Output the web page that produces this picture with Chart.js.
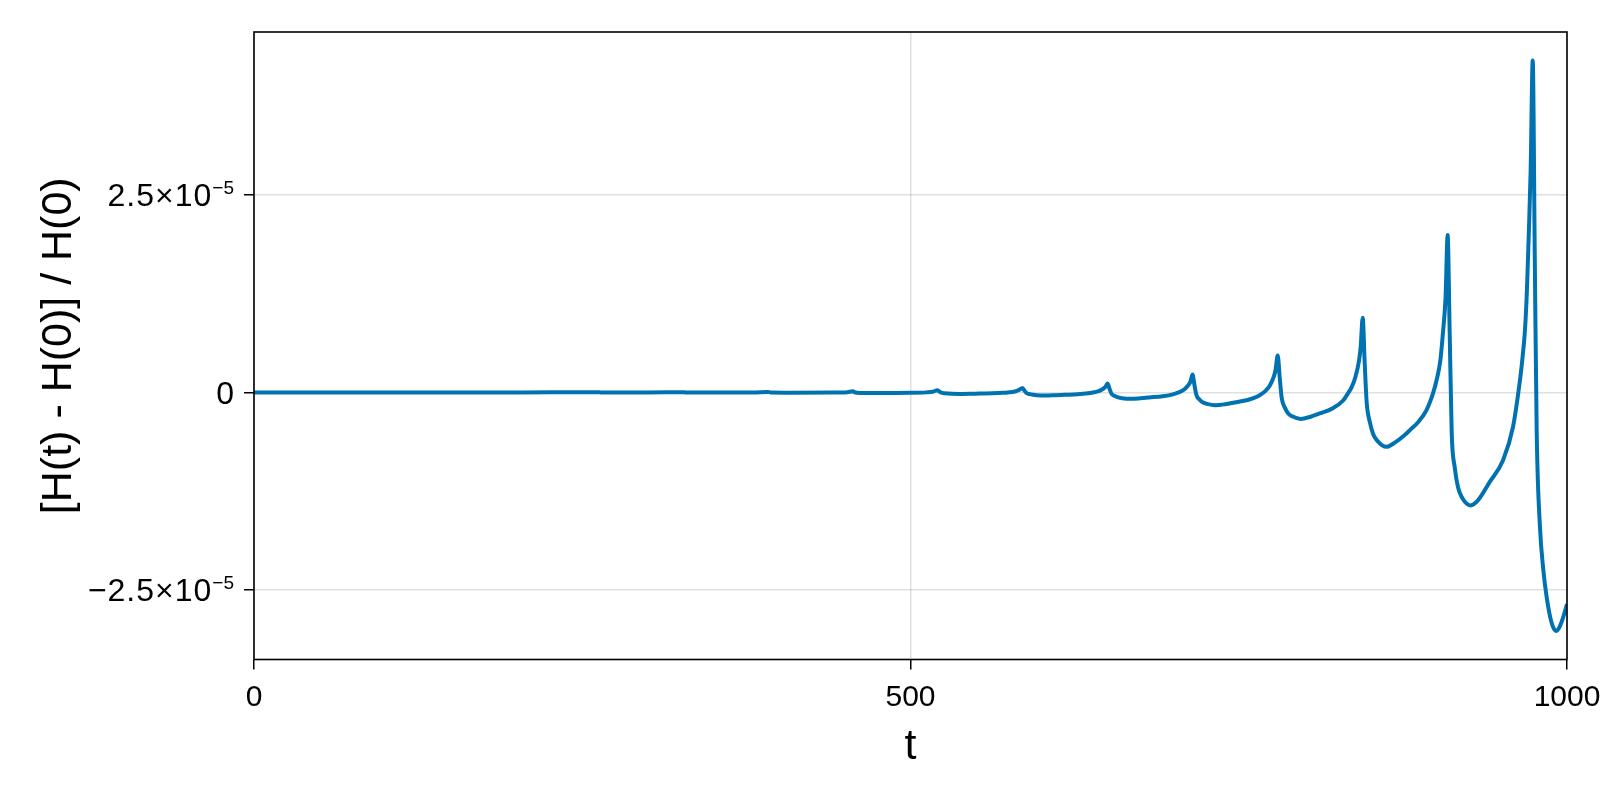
<!DOCTYPE html>
<html>
<head>
<meta charset="utf-8">
<script src="https://cdn.jsdelivr.net/npm/chart.js@4"></script>
<style>
  html, body { margin: 0; padding: 0; background: #fff; }
  #wrap { width: 1600px; height: 800px; }
</style>
</head>
<body>
<div id="wrap"><canvas id="energyChart" width="1600" height="800"></canvas></div>
<script>
// t values
const tValues = [
  0, 100, 200, 261.8, 264, 300, 326.5, 329, 344, 380, 391.3, 393.5, 409, 440, 452, 456, 458, 462, 474, 500, 512, 517, 520.5,
  522, 523.5, 526, 531.5, 538, 545.5, 552.5, 562.5, 570.3, 574.1, 579.5, 582.4, 585.3,
  586.8, 588.3, 590.8, 593.3, 596.3, 602.8, 610.3, 617.3, 627.3, 635.1, 638.9, 641.3, 644.3, 647.2, 648.5, 650.1,
  651.6, 653.1, 655.6, 658.1, 661.1, 667.6, 675.1, 682.1, 692.1, 699.9, 703.7, 706.1, 709.1, 712, 713.3, 714.8,
  716.3, 717.8, 720.3, 722.8, 725.8, 732.3, 739.8, 746.8, 756.8, 764.6, 768.4, 770.8, 773.8, 776.7, 778, 779.7,
  781.2, 782.7, 785.2, 787.7, 790.7, 797.2, 804.7, 811.7, 821.7, 829.5, 833.3, 835.7, 838.7, 841.6, 842.9, 844.4,
  845.9, 847.4, 849.9, 852.4, 855.4, 862.4, 869.4, 876.4, 880.4, 886.4, 893, 898, 900.7, 903.5, 905.5, 907.5, 909.1,
  910.6, 912.2, 914.5, 917, 920, 926.6, 932, 941.3, 951.3, 958.9, 964.2, 966, 968, 969.5, 971, 972.3, 973.9,
  975.5, 976.9, 979.4, 982, 984.5, 988, 991.6, 994, 997, 1000
];

// [H(t) - H(0)] / H(0)
const relError = [
  0, 0, 0, 0.0015e-5, -0.0005e-5, -0.0008e-5, 0.003e-5, -0.001e-5, -0.002e-5, -0.001e-5, 0.006e-5, -0.002e-5, -0.004e-5, -0.003e-5, 0.002e-5, 0.013e-5, -0.002e-5, -0.007e-5, -0.009e-5, -0.006e-5, 0, 0.008e-5, 0.027e-5,
  0.011e-5, -0.004e-5, -0.011e-5, -0.0175e-5, -0.019e-5, -0.018e-5, -0.015e-5, -0.012e-5, -0.006e-5, -0.001e-5, 0.011e-5, 0.028e-5, 0.055e-5,
  0.022e-5, -0.008e-5, -0.023e-5, -0.031e-5, -0.036e-5, -0.04e-5, -0.036e-5, -0.031e-5, -0.024e-5, -0.012e-5, -0.002e-5, 0.007e-5, 0.022e-5, 0.05e-5, 0.07e-5, 0.112e-5,
  0.045e-5, -0.017e-5, -0.047e-5, -0.064e-5, -0.073e-5, -0.081e-5, -0.074e-5, -0.064e-5, -0.048e-5, -0.025e-5, -0.004e-5, 0.013e-5, 0.045e-5, 0.1e-5, 0.14e-5, 0.225e-5,
  0.09e-5, -0.034e-5, -0.095e-5, -0.128e-5, -0.146e-5, -0.162e-5, -0.149e-5, -0.128e-5, -0.097e-5, -0.05e-5, -0.008e-5, 0.027e-5, 0.09e-5, 0.2e-5, 0.28e-5, 0.466e-5,
  0.186e-5, -0.07e-5, -0.196e-5, -0.266e-5, -0.303e-5, -0.336e-5, -0.308e-5, -0.266e-5, -0.2e-5, -0.103e-5, -0.01e-5, 0.056e-5, 0.186e-5, 0.4e-5, 0.58e-5, 0.944e-5,
  0.38e-5, -0.12e-5, -0.38e-5, -0.53e-5, -0.61e-5, -0.689e-5, -0.63e-5, -0.54e-5, -0.477e-5, -0.38e-5, -0.224e-5, -0.01e-5, 0.156e-5, 0.4e-5, 0.75e-5, 1.2e-5, 1.99e-5,
  0.8e-5, -0.515e-5, -0.95e-5, -1.2e-5, -1.33e-5, -1.43e-5, -1.37e-5, -1.13e-5, -0.86e-5, -0.435e-5, 0.156e-5, 0.42e-5, 0.79e-5, 1.3e-5, 2.06e-5, 2.8e-5, 4.2e-5,
  1.64e-5, -0.48e-5, -1.7e-5, -2.25e-5, -2.59e-5, -2.9e-5, -3.02e-5, -2.98e-5, -2.85e-5, -2.68e-5
];

const xTicks = [0, 500, 1000];
const xTickLabels = ['0', '500', '1000'];
const yTicks = [-2.5e-5, 0, 2.5e-5];
// tick label = mantissa part + superscript exponent
const yTickMain = ['\u22122.5\u00d710', '0', '2.5\u00d710'];
const yTickExp = ['\u22125', '', '\u22125'];

const fontFamily = '"Liberation Sans", Arial, sans-serif';

// black box around the plot area
const framePlugin = {
  id: 'frame',
  afterDatasetsDraw(chart) {
    const { ctx, chartArea } = chart;
    ctx.save();
    ctx.strokeStyle = '#000';
    ctx.lineWidth = 1.6;
    ctx.strokeRect(chartArea.left, chartArea.top, chartArea.right - chartArea.left, chartArea.bottom - chartArea.top);
    ctx.restore();
  }
};

// y tick labels with a raised exponent
const yLabelPlugin = {
  id: 'yLabels',
  afterDraw(chart) {
    const { ctx } = chart;
    const scale = chart.scales.y;
    const rightEdge = scale.right - 19;
    ctx.save();
    ctx.fillStyle = '#000';
    ctx.textBaseline = 'alphabetic';
    ctx.textAlign = 'left';
    yTicks.forEach((v, i) => {
      const y = scale.getPixelForValue(v);
      const base = y + 11.5;
      ctx.letterSpacing = '0px';
      ctx.font = '19px ' + fontFamily;
      const expW = yTickExp[i] ? ctx.measureText(yTickExp[i]).width + 1 : 0;
      ctx.font = '32px ' + fontFamily;
      ctx.letterSpacing = '1px';
      const mainW = ctx.measureText(yTickMain[i]).width;
      const x0 = rightEdge - expW - mainW;
      ctx.fillText(yTickMain[i], x0, base);
      if (yTickExp[i]) {
        ctx.letterSpacing = '0px';
        ctx.font = '19px ' + fontFamily;
        ctx.fillText(yTickExp[i], x0 + mainW, base - 12.3);
      }
    });
    ctx.restore();
  }
};

const ctx = document.getElementById('energyChart').getContext('2d');
new Chart(ctx, {
  type: 'line',
  data: {
    datasets: [{
      data: tValues.map((t, i) => ({ x: t, y: relError[i] })),
      borderColor: '#0072b2',
      borderWidth: 4,
      pointRadius: 0,
      fill: false,
      cubicInterpolationMode: 'monotone'
    }]
  },
  options: {
    responsive: false,
    animation: false,
    plugins: { legend: { display: false }, tooltip: { enabled: false } },
    layout: { padding: { top: 32, right: 33, left: 0, bottom: 0 } },
    scales: {
      x: {
        type: 'linear',
        min: 0,
        max: 1000,
        afterBuildTicks: (s) => { s.ticks = xTicks.map(v => ({ value: v })); },
        afterFit: (s) => { s.height = 140.5; s.paddingLeft = 0; s.paddingRight = 0; },
        grid: { color: 'rgba(0,0,0,0.12)', lineWidth: 1.5, tickLength: 10, tickColor: '#000', tickWidth: 1.5 },
        border: { display: false },
        ticks: {
          font: { family: fontFamily, size: 30 },
          color: '#000',
          padding: 10,
          maxRotation: 0,
          callback: (v) => xTickLabels[xTicks.indexOf(v)]
        },
        title: { display: true, text: 't', color: '#000', font: { family: fontFamily, size: 43 }, padding: { top: 0, bottom: 27 } }
      },
      y: {
        type: 'linear',
        min: -3.38e-5,
        max: 4.56e-5,
        afterBuildTicks: (s) => { s.ticks = yTicks.map(v => ({ value: v })); },
        afterFit: (s) => { s.width = 254; s.paddingTop = 0; s.paddingBottom = 0; },
        grid: { color: 'rgba(0,0,0,0.12)', lineWidth: 1.5, tickLength: 10, tickColor: '#000', tickWidth: 1.5 },
        border: { display: false },
        ticks: { display: false },
        title: { display: true, text: '[H(t) - H(0)] / H(0)', color: '#000', font: { family: fontFamily, size: 43 }, padding: { top: 33, bottom: 0 } }
      }
    }
  },
  plugins: [framePlugin, yLabelPlugin]
});
</script>
</body>
</html>
